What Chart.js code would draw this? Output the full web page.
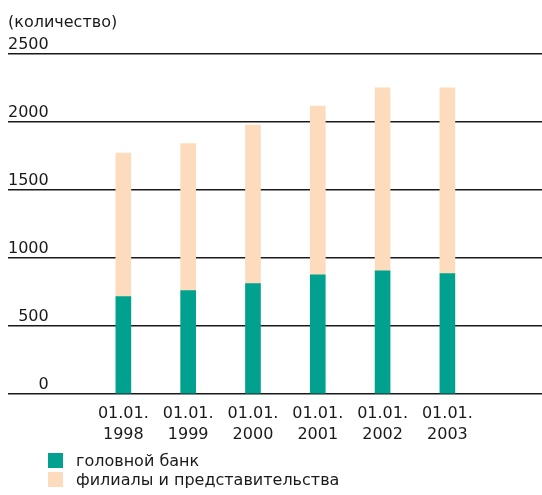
<!DOCTYPE html>
<html><head><meta charset="utf-8">
<script src="https://cdn.jsdelivr.net/npm/chart.js@4.4.1/dist/chart.umd.min.js"></script>
<style>
html,body{margin:0;padding:0;background:#fff;}
#wrap{position:relative;width:542px;height:495px;font-family:"DejaVu Sans",sans-serif;color:#1a1a1a;}
#legend{position:absolute;left:48px;top:451px;font-size:16px;}
.item{display:flex;align-items:center;height:19px;}
.sw{width:15px;height:15px;margin-right:13px;flex:none;}
</style></head><body>
<div id="wrap"><canvas id="c" width="542" height="495"></canvas><div id="legend"></div></div>
<script>
const categories = ['01.01. 1998', '01.01. 1999', '01.01. 2000', '01.01. 2001', '01.01. 2002', '01.01. 2003'];
const headBank = [715, 760, 810, 875, 905, 885];
const branches = [1055, 1080, 1165, 1240, 1345, 1365];
const yTicks = [0, 500, 1000, 1500, 2000, 2500];
const seriesNames = ['головной банк', 'филиалы и представительства'];
const unitLabel = '(количество)';

const FONT = {family: '"DejaVu Sans", sans-serif', size: 16};
const TEXT = '#1a1a1a';

const chart = new Chart(document.getElementById('c'), {
  type: 'bar',
  data: {
    datasets: [
      {label: seriesNames[0], data: headBank.map((v, i) => ({x: i, y: v})), backgroundColor: '#00a28f', barThickness: 15},
      {label: seriesNames[1], data: branches.map((v, i) => ({x: i, y: v})), backgroundColor: '#fddbbd', barThickness: 15}
    ]
  },
  options: {
    responsive: false,
    animation: false,
    layout: {padding: {left: 8, right: 0, top: 0, bottom: 47.5}},
    plugins: {
      legend: {display: false},
      tooltip: {enabled: false},
      title: {display: true, text: unitLabel, align: 'start', color: TEXT, font: {...FONT, weight: 'normal'}, padding: {top: 13, bottom: 21.5}}
    },
    scales: {
      x: {
        type: 'linear', stacked: true, offset: false, min: -1.78, max: 6.46,
        grid: {display: false}, border: {display: false},
        afterBuildTicks: s => { s.ticks = categories.map((c, i) => ({value: i})); },
        ticks: {autoSkip: false, maxRotation: 0, color: TEXT, font: {...FONT, lineHeight: 1.3}, padding: 2,
          callback: v => categories[v] ? categories[v].split(' ') : ''}
      },
      y: {
        stacked: true, min: 0, max: 2500,
        border: {display: false},
        grid: {color: '#1a1a1a', lineWidth: 1.5, drawTicks: false},
        afterBuildTicks: s => { s.ticks = yTicks.map(v => ({value: v})); },
        afterFit: s => { s.width = 0; },
        ticks: {mirror: true, crossAlign: 'far', color: TEXT, font: FONT, padding: 0, labelOffset: -9, callback: v => String(v)}
      }
    }
  }
});

const lg = document.getElementById('legend');
chart.data.datasets.forEach(ds => {
  const it = document.createElement('div'); it.className = 'item';
  const sw = document.createElement('span'); sw.className = 'sw'; sw.style.background = ds.backgroundColor;
  const tx = document.createElement('span'); tx.textContent = ds.label;
  it.appendChild(sw); it.appendChild(tx); lg.appendChild(it);
});
</script>
</body></html>
